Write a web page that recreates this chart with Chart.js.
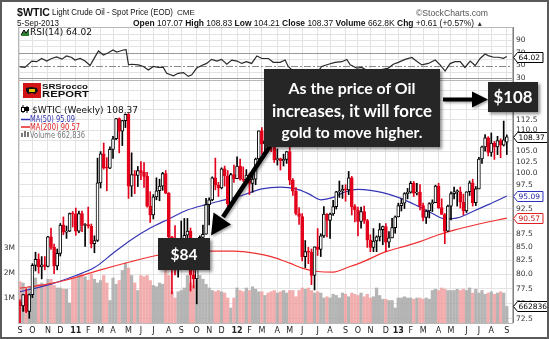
<!DOCTYPE html>
<html><head><meta charset="utf-8">
<script src="https://cdn.jsdelivr.net/npm/chart.js@4"></script>
<style>
html,body{margin:0;padding:0;background:#fff;}
#wrap{position:relative;width:549px;height:339px;overflow:hidden;background:#fff;}
canvas{position:absolute;left:0;top:0;}
.t{position:absolute;white-space:nowrap;line-height:1;transform-origin:0 50%;font-family:'DejaVu Sans',sans-serif;color:#111;z-index:4;}
.l{font-family:'Liberation Sans',Arial,sans-serif;}
.box{position:absolute;background:#262626;color:#fff;font-family:Lato,sans-serif;font-weight:bold;text-align:center;box-shadow:2px 2px 3px rgba(0,0,0,0.45);z-index:6;}
.box div{white-space:nowrap;}
#frame{position:absolute;left:0;top:0;width:549px;height:339px;box-sizing:border-box;border:2px solid #5a5a5a;pointer-events:none;z-index:9;}
</style></head><body>
<div id="wrap">
<canvas id="rsi" width="549" height="339"></canvas>
<canvas id="main" width="549" height="339"></canvas>

<!-- header -->
<div class="t l" style="left:17px;top:7.2px;font-size:11px;font-weight:bold;" data-w="33">$WTIC</div>
<div class="t l" style="left:52px;top:8.3px;font-size:9px;" data-w="121">Light Crude Oil - Spot Price (EOD)</div>
<div class="t l" style="left:177px;top:9px;font-size:8px;" data-w="18">CME</div>
<div class="t l" style="left:416px;top:8.5px;font-size:9px;color:#555;" data-w="72">©StockCharts.com</div>
<div class="t l" style="left:17px;top:18.5px;font-size:9px;" data-w="42">5-Sep-2013</div>
<div class="t l" style="left:133px;top:18.5px;font-size:9px;" data-w="350"><b>Open</b> 107.07 <b>High</b> 108.83 <b>Low</b> 104.21 <b>Close</b> 108.37 <b>Volume</b> 662.8K <b>Chg</b> +0.61 (+0.57%) <span style="font-size:7px;color:#333">▲</span></div>

<!-- RSI legend -->
<svg style="position:absolute;left:21px;top:29px;z-index:4" width="8" height="7"><polygon points="0,7 3,1 5,4 8,0 8,7" fill="#2e7d32"/><polyline points="0,6 3,1 5,4 8,0" fill="none" stroke="#000" stroke-width="1"/></svg>
<div class="t" style="left:30px;top:27.8px;font-size:9px;" data-w="62">RSI(14) 64.02</div>

<!-- logo -->
<svg style="position:absolute;left:23px;top:83px;z-index:4" width="18" height="15"><rect x="0" y="0" width="18" height="15" fill="#d21414"/><path d="M3,5 L8,4 L14,5 L15,8 L12,11 L9,10 L5,11 L3,8 Z" fill="#111"/><rect x="6" y="6" width="6" height="3" fill="#e8c000"/></svg>
<div class="t l" style="left:42px;top:82.8px;font-size:8px;font-weight:bold;" data-w="46">SRSrocco</div>
<div class="t l" style="left:42px;top:89px;font-size:9.5px;font-weight:bold;" data-w="47">REPORT</div>

<!-- main legend -->
<svg style="position:absolute;left:21px;top:105px;z-index:4" width="9" height="32">
  <line x1="2" y1="0" x2="2" y2="8" stroke="#000"/><rect x="0.5" y="2.5" width="3" height="4" fill="#fff" stroke="#000"/>
  <line x1="6" y1="1" x2="6" y2="8" stroke="#000"/><rect x="4.5" y="2.5" width="3" height="3" fill="#000" stroke="#000"/>
  <line x1="0" y1="14.5" x2="9" y2="14.5" stroke="#2e2eb0" stroke-width="1.5"/>
  <line x1="0" y1="22" x2="9" y2="22" stroke="#e82020" stroke-width="1.5"/>
  <rect x="0" y="28" width="2" height="4" fill="#777"/><rect x="3" y="26" width="2" height="6" fill="#777"/><rect x="6" y="27" width="2" height="5" fill="#777"/>
</svg>
<div class="t" style="left:31.7px;top:105.5px;font-size:9px;" data-w="106">$WTIC (Weekly) 108.37</div>
<div class="t" style="left:30px;top:115px;font-size:9px;color:#2e2eb0;" data-w="45">MA(50) 95.09</div>
<div class="t" style="left:30px;top:122.8px;font-size:9px;color:#e02020;" data-w="50">MA(200) 90.57</div>
<div class="t" style="left:29.5px;top:130.5px;font-size:9px;color:#777;" data-w="55">Volume 662,836</div>

<!-- arrows -->
<svg style="position:absolute;left:0;top:0;z-index:5" width="549" height="339">
  <defs><filter id="sh" x="-20%" y="-20%" width="140%" height="140%"><feDropShadow dx="1.5" dy="1.5" stdDeviation="1" flood-color="#000" flood-opacity="0.35"/></filter></defs>
  <g filter="url(#sh)">
    <line x1="443" y1="99.5" x2="475" y2="99.5" stroke="#000" stroke-width="4"/>
    <polygon points="472,91.5 488,99.5 472,107.5" fill="#000"/>
    <line x1="270" y1="146" x2="223" y2="217" stroke="#000" stroke-width="4.5"/>
    <polygon points="231,224.5 211,235.5 213.5,212.5" fill="#000"/>
  </g>
</svg>

<!-- annotation boxes -->
<div class="box" style="left:264px;top:69px;width:176px;height:78px;font-size:14.5px;line-height:21.5px;padding-top:8px;box-sizing:border-box;">
  <div><span data-fw="127">As the price of Oil</span></div>
  <div><span data-fw="160">increases, it will force</span></div>
  <div><span data-fw="141">gold to move higher.</span></div>
</div>
<div class="box" style="left:488px;top:82px;width:50px;height:30px;font-size:17px;line-height:30px;"><span data-fw="39">$108</span></div>
<div class="box" style="left:158px;top:238px;width:52px;height:32px;font-size:17px;line-height:32px;"><span data-fw="27">$84</span></div>

<div id="frame"></div>
</div>

<script>
// ---------- DATA ----------
const monthPos = [0,4,9,13,18,22,26,30,35,39,43,48,52,57,61,65,70,74,78,83,87,91,96,100,105,109,113,118,122,126,130,135,139,144,148,152,157];
const monthLabels = ['S','O','N','D','11','F','M','A','M','J','J','A','S','O','N','D','12','F','M','A','M','J','J','A','S','O','N','D','13','F','M','A','M','J','J','A','S'];
const priceTicks = [72.5,75,77.5,80,82.5,85,87.5,90,92.5,95,97.5,100,102.5,105,107.5,110,112.5,115,117.5,120];
const volTicks = [1,2,3];
const rsiLabelTicks = [30,50,70,90];
const rsiGrid = [30,40,50,60,70,80,90,100];

const opens = [
75.2,74.6,76.5,73.7,76.5,81.6,82.7,81.3,81.7,81.4,
86.9,84.9,81.5,83.8,89.2,87.8,88.0,91.5,91.4,88.0,
91.5,89.1,89.3,89.0,85.6,86.2,97.9,104.4,101.2,101.1,
105.4,107.9,112.8,109.7,112.3,113.9,97.2,99.7,99.5,100.6,
100.2,99.3,93.0,91.2,94.9,96.2,97.2,99.9,95.7,86.9,
85.4,82.3,85.4,86.5,87.2,88.0,79.9,79.2,83.0,86.8,
87.4,93.3,94.3,99.0,97.4,96.8,101.0,99.4,93.5,99.7,
98.8,101.6,98.7,98.5,99.6,97.8,98.7,103.2,109.8,106.7,
107.4,107.1,106.9,103.0,103.3,102.8,103.1,104.9,98.5,96.1,
91.5,90.9,83.2,84.1,84.0,79.8,85.0,84.5,87.1,91.4,
90.1,91.4,92.9,96.0,96.2,96.5,96.4,99.0,92.9,92.2,
89.9,91.9,90.1,86.3,84.9,86.1,86.9,88.3,88.9,85.9,
86.7,88.7,90.8,93.1,93.6,95.6,95.9,97.8,95.7,95.9,
93.1,90.7,92.0,93.5,93.7,97.2,92.7,91.3,88.0,93.0,
95.6,96.0,96.0,93.8,92.0,96.0,97.9,93.7,96.6,103.2,
106.0,108.1,104.7,106.9,106.0,107.5,106.4,107.07];
const highs = [
75.6,76.5,77.5,76.6,81.9,84.0,83.7,83.2,83.2,87.0,
88.6,85.5,84.6,89.5,90.8,89.0,91.6,91.9,92.6,92.0,
92.0,89.5,92.8,89.4,87.1,103.4,104.9,106.9,103.5,106.0,
108.5,112.8,113.0,112.4,114.0,114.1,104.6,100.6,101.5,102.6,
102.4,100.2,96.0,95.4,99.0,98.7,100.2,100.6,95.8,87.0,
89.1,86.0,90.0,90.5,90.5,88.6,83.6,83.0,87.1,89.2,
94.6,94.7,99.2,103.4,98.0,101.2,101.6,100.6,100.0,101.8,
103.7,103.2,101.4,100.8,100.0,100.2,103.4,109.8,110.6,107.4,
107.5,108.3,107.5,105.5,103.4,104.3,104.9,106.4,98.8,96.9,
92.7,91.5,86.2,84.9,84.6,85.0,88.5,87.5,92.9,91.5,
91.6,94.2,96.1,98.3,97.4,97.5,100.4,99.3,93.3,92.8,
92.8,93.0,90.3,87.3,88.5,87.1,89.5,89.0,89.5,87.9,
90.5,91.0,93.6,94.5,95.8,96.7,98.2,98.2,97.8,97.5,
93.6,92.2,93.7,94.3,97.4,97.8,94.5,91.5,93.2,96.0,
97.0,96.4,97.0,95.5,96.0,98.3,98.7,97.1,103.6,106.2,
108.9,108.4,109.3,107.3,108.5,107.9,112.2,108.83];
const lows = [
71.9,73.7,73.5,72.6,76.0,80.6,80.2,79.2,80.8,81.3,
84.5,80.1,80.8,83.3,87.3,86.6,87.9,88.8,87.2,87.7,
87.9,85.1,88.6,84.8,83.9,86.0,96.8,100.9,96.2,101.0,
103.3,107.7,104.6,106.3,110.6,94.6,95.0,95.6,97.1,98.6,
96.9,92.8,89.7,90.4,94.3,94.1,96.3,95.6,82.9,76.6,
79.9,79.5,85.3,84.8,85.1,77.1,77.6,74.95,82.6,84.7,
87.4,89.2,94.1,96.4,95.0,96.6,97.2,92.5,93.5,98.0,
98.8,98.5,98.2,97.9,95.4,95.9,97.5,102.9,104.3,103.8,
104.8,104.9,102.4,101.8,100.7,101.6,102.2,97.5,95.2,91.2,
89.3,82.4,81.2,81.9,78.2,77.3,83.4,83.2,86.8,86.9,
86.6,91.1,92.4,94.8,94.6,94.0,95.4,91.2,89.8,87.1,
88.6,89.5,84.9,84.1,84.1,84.1,86.1,85.4,84.1,84.9,
86.7,87.6,90.8,92.0,92.5,94.5,95.7,95.0,95.3,92.2,
90.0,89.5,90.6,91.9,93.7,92.5,91.3,85.6,87.9,90.2,
94.5,93.0,92.6,91.2,91.7,95.2,93.0,93.1,96.6,102.2,
105.0,103.9,103.8,103.1,104.2,103.5,106.2,104.21];
const closes = [
74.6,76.5,73.7,76.5,81.6,82.7,81.3,81.7,81.4,86.9,
84.9,81.5,83.8,89.2,87.8,88.0,91.5,91.4,88.0,91.5,
89.1,89.3,89.0,85.6,86.2,97.9,104.4,101.2,101.1,105.4,
107.9,112.8,109.7,112.3,113.9,97.2,99.7,99.5,100.6,100.2,
99.3,93.0,91.2,94.9,96.2,97.2,99.9,95.7,86.9,85.4,
82.3,85.4,86.5,87.2,88.0,79.9,79.2,83.0,86.8,87.4,
93.3,94.3,99.0,97.4,96.8,101.0,99.4,93.5,99.7,98.8,
101.6,98.7,98.5,99.6,97.8,98.7,103.2,109.8,106.7,107.4,
107.1,106.9,103.0,103.3,102.8,103.1,104.9,98.5,96.1,91.5,
90.9,83.2,84.1,84.0,79.8,85.0,84.5,87.1,91.4,90.1,
91.4,92.9,96.0,96.2,96.5,96.4,99.0,92.9,92.2,89.9,
91.9,90.1,86.3,84.9,86.1,86.9,88.3,88.9,85.9,86.7,
88.7,90.8,93.1,93.6,95.6,95.9,97.8,95.7,95.9,93.1,
90.7,92.0,93.5,93.7,97.2,92.7,91.3,88.0,93.0,95.6,
96.0,96.0,93.8,92.0,96.0,97.9,93.7,96.6,103.2,106.0,
108.1,104.7,106.9,106.0,107.5,106.4,107.65,108.37];
// weekly volume, millions
const volumes = [
1.65,1.6,1.35,1.45,1.4,1.8,1.55,1.6,1.5,1.75,
1.75,1.5,1.4,1.4,1.35,1.35,0.8,1.8,1.8,1.9,
1.95,1.85,1.7,1.95,1.75,1.6,1.7,1.9,1.6,0.9,
1.8,1.55,1.7,2.1,2.4,2.2,1.9,1.6,1.3,1.9,
1.85,1.9,1.7,1.5,1.45,1.6,1.55,2.2,1.9,1.25,
1.0,1.25,1.3,1.4,1.9,1.6,1.5,1.7,1.9,1.75,
1.55,1.4,1.3,1.25,1.3,1.25,1.2,1.0,0.6,1.0,
1.4,1.3,1.25,1.4,1.3,1.45,1.35,1.25,1.25,1.1,
1.2,1.25,1.3,1.2,1.25,1.3,1.2,1.3,1.3,1.05,
1.3,1.4,1.35,1.4,1.3,1.2,1.25,1.2,1.0,1.05,
1.0,1.15,1.1,1.0,1.2,1.15,1.05,1.2,1.15,1.1,
1.2,1.05,1.15,1.0,1.05,1.4,1.1,0.95,0.95,0.9,
0.9,0.6,1.0,1.0,1.05,1.0,1.0,0.95,1.0,1.0,
0.95,1.0,0.95,1.3,1.35,1.3,1.4,1.35,1.3,1.3,
1.3,1.35,1.3,1.35,1.3,1.4,1.2,1.35,1.2,1.3,
1.15,1.2,1.25,1.15,1.2,1.25,1.2,0.662836];
// moving averages read at sample weeks [week, value]
const ma50 = [[0,77.0],[10,78.3],[18,79.8],[24,81.2],[30,83.8],[36,86.4],[42,88.6],[48,90.4],[54,92.2],[60,93.3],[66,94.3],[72,95.3],[78,96.6],[84,97.0],[89,96.6],[93,95.6],[97,94.3],[101,94.8],[105,96.0],[109,96.5],[113,96.3],[117,95.8],[122,94.8],[128,93.1],[133,91.5],[137,90.4],[141,90.6],[146,91.9],[151,93.3],[157,95.09]];
const ma200 = [[0,77.6],[8,78.2],[15,79.0],[26,80.8],[36,82.3],[44,83.4],[52,84.0],[60,84.2],[69,84.2],[76,83.8],[81,83.2],[87,82.0],[91,81.1],[96,80.5],[101,80.4],[106,81.3],[110,82.1],[118,84.1],[124,85.1],[129,86.0],[135,87.3],[140,88.2],[148,89.4],[157,90.57]];
const rsi = [[0,48],[1.6,47],[3.8,57],[5.4,56],[7,61],[8.6,57],[10.2,61],[11.8,63.5],[13.5,60],[15,65],[16.7,62.7],[17.7,58.6],[19.4,61],[21,57],[22.6,50],[24.2,63.5],[25.3,72.8],[26.9,66.5],[28.5,70],[30,74.3],[31.2,71],[32.3,72.8],[33.3,74.3],[34.2,75],[35,51],[36,52],[38.2,51],[39.8,48.5],[41.4,43],[43,48.5],[44.6,47],[46.2,47],[47.3,37.8],[49.5,34],[51,37.8],[52.7,39],[54.3,33],[55.4,35.5],[57,46],[58.6,50],[60.2,53.3],[61.8,59.6],[63.5,57],[65,59.6],[66.7,52],[68.3,58.6],[70,57],[71.5,53.3],[73,56],[74.7,53.3],[76.4,65],[78,61],[80.1,61],[81.7,55],[83.9,55],[85.5,58.6],[86.5,48.5],[88,42],[90,36],[91,30],[93,31],[94,28],[95,38],[96,40],[97.3,48.5],[99.5,52],[101.6,55],[103.8,56],[105.4,59.6],[106.5,51],[108.6,46],[110.2,47],[112,42],[114,40],[116,43],[118.8,46],[120.4,52],[122,55],[124.2,59.6],[126.4,62.7],[127.4,58.6],[129.6,51],[131.7,53.3],[133.9,58.6],[135.5,51],[137.1,41.4],[138.7,53],[140.3,56],[142,56],[143.5,47],[145.2,57],[146.8,50],[148.4,61],[150,68],[151,65.6],[152.7,63],[154.3,63],[155.9,61.4],[157,64.02]];

// ---------- FIT TEXT ----------
document.querySelectorAll('[data-w]').forEach(el => {
  const w = el.getBoundingClientRect().width;
  if (w > 0) el.style.transform = 'scaleX(' + (+el.dataset.w / w) + ')';
});
document.querySelectorAll('[data-fw]').forEach(el => {
  const w = el.getBoundingClientRect().width;
  const fs = parseFloat(getComputedStyle(el).fontSize);
  if (w > 0) el.style.fontSize = (fs * +el.dataset.fw / w) + 'px';
});

// ---------- CHART ----------
Chart.defaults.font.family = "'DejaVu Sans', sans-serif";
const UP = '#000000', DOWN = '#e3001b';
const isDown = i => (i > 0 ? closes[i] < closes[i-1] : closes[i] < opens[i]);
const cColor = i => isDown(i) ? DOWN : UP;
const XMIN = -0.645, XMAX = 159.0;

function drawTag(ctx, x, y, text, stroke, fill) {
  ctx.font = "7.5px 'DejaVu Sans'";
  const w = ctx.measureText(text).width + 4, h = 10;
  x = Math.round(x) + 0.5; y = Math.round(y) + 0.5;
  ctx.beginPath();
  ctx.moveTo(x, y); ctx.lineTo(x + 4, y - h/2); ctx.lineTo(x + 4 + w, y - h/2);
  ctx.lineTo(x + 4 + w, y + h/2); ctx.lineTo(x + 4, y + h/2); ctx.closePath();
  ctx.fillStyle = '#fff'; ctx.fill();
  ctx.strokeStyle = stroke; ctx.lineWidth = 1; ctx.stroke();
  ctx.fillStyle = fill; ctx.textBaseline = 'middle'; ctx.textAlign = 'left';
  ctx.fillText(text, x + 5, y + 0.5);
}

const xScale = (showLabels) => ({
  type: 'linear', min: XMIN, max: XMAX, offset: false,
  afterBuildTicks: s => { s.ticks = monthPos.map(v => ({ value: v })); },
  afterFit: s => { s.height = showLabels ? 16 : 0; },
  grid: { color: '#e3e3e3', drawTicks: false, offset: false },
  border: { display: false },
  ticks: showLabels ? {
    autoSkip: false, maxRotation: 0, padding: 3, color: '#222',
    callback: (v, i) => monthLabels[i],
    font: c => ({ size: 8, weight: /\d/.test(monthLabels[c.index] || '') ? 'bold' : 'normal' })
  } : { display: false }
});

const mainDeco = {
  id: 'mainDeco',
  afterDraw(chart) {
    const { ctx, chartArea: a, scales } = chart;
    ctx.save();
    ctx.strokeStyle = '#b8b8b8'; ctx.lineWidth = 1;
    ctx.strokeRect(a.left + 0.5, a.top + 0.5, a.right - a.left - 1, a.bottom - a.top);
    ctx.strokeStyle = '#808080';
    ctx.beginPath(); ctx.moveTo(a.right + 0.5, a.top); ctx.lineTo(a.right + 0.5, a.bottom); ctx.stroke();
    const last = closes.length - 1;
    drawTag(ctx, a.right, scales.yP.getPixelForValue(ma50[ma50.length-1][1]), ma50[ma50.length-1][1].toFixed(2), '#3030c0', '#2020a0');
    drawTag(ctx, a.right, scales.yP.getPixelForValue(ma200[ma200.length-1][1]), ma200[ma200.length-1][1].toFixed(2), '#e02020', '#c01010');
    drawTag(ctx, a.right, scales.yV.getPixelForValue(volumes[last]), String(Math.round(volumes[last] * 1e6)), '#000', '#000');
    drawTag(ctx, a.right, scales.yP.getPixelForValue(closes[last]), closes[last].toFixed(2), '#000', '#000');
    ctx.restore();
  }
};

new Chart(document.getElementById('main'), {
  type: 'bar',
  data: { datasets: [
    { type: 'bar', yAxisID: 'yV', grouped: false, order: 10, barThickness: 2.6,
      data: volumes.map((v, i) => ({ x: i, y: v })),
      backgroundColor: c => isDown(c.dataIndex) ? 'rgba(240,160,160,0.85)' : 'rgba(168,168,168,0.85)' },
    { type: 'line', yAxisID: 'yP', order: 5, data: ma200.map(([x, y]) => ({ x, y })),
      borderColor: '#f03030', borderWidth: 1.2, pointRadius: 0, cubicInterpolationMode: 'monotone' },
    { type: 'line', yAxisID: 'yP', order: 5, data: ma50.map(([x, y]) => ({ x, y })),
      borderColor: '#3535b5', borderWidth: 1.2, pointRadius: 0, cubicInterpolationMode: 'monotone' },
    { type: 'bar', yAxisID: 'yP', grouped: false, order: 2, barThickness: 1,
      data: lows.map((l, i) => ({ x: i, y: [l, highs[i]] })),
      backgroundColor: c => cColor(c.dataIndex) },
    { type: 'bar', yAxisID: 'yP', grouped: false, order: 1, barThickness: 3, borderWidth: 1, borderSkipped: false, minBarLength: 1,
      data: opens.map((o, i) => ({ x: i, y: [o, closes[i]] })),
      backgroundColor: c => closes[c.dataIndex] < opens[c.dataIndex] ? cColor(c.dataIndex) : '#ffffff',
      borderColor: c => cColor(c.dataIndex) }
  ]},
  options: {
    animation: false, responsive: false, events: [],
    layout: { padding: { top: 80, left: 0, right: 0, bottom: 0 } },
    plugins: { legend: { display: false }, tooltip: { enabled: false } },
    scales: {
      x: xScale(true),
      yP: { type: 'logarithmic', position: 'right', min: 71.85, max: 122.85,
        afterBuildTicks: s => { s.ticks = priceTicks.map(v => ({ value: v })); },
        afterFit: s => { s.width = 36; },
        grid: { color: '#e3e3e3', drawTicks: false }, border: { display: false },
        ticks: { padding: 3, color: '#333', font: { size: 7.5 }, callback: v => Number(v).toFixed(1) } },
      yV: { type: 'linear', position: 'left', min: 0, max: 9.72,
        afterBuildTicks: s => { s.ticks = volTicks.map(v => ({ value: v })); },
        afterFit: s => { s.width = 18; },
        grid: { display: false, drawTicks: false, tickLength: 0 }, border: { display: false },
        ticks: { padding: 3, color: '#333', font: { size: 7.5 }, callback: v => v + 'M' } }
    }
  },
  plugins: [mainDeco]
});

const rsiDeco = {
  id: 'rsiDeco',
  beforeDatasetsDraw(chart) {
    const { ctx, chartArea: a, scales: { y } } = chart;
    ctx.save(); ctx.lineWidth = 1;
    rsiGrid.forEach(v => {
      const py = Math.round(y.getPixelForValue(v)) + 0.5;
      if (py < a.top || py > a.bottom) return;
      if (v === 50) { ctx.setLineDash([7, 2, 2, 2]); ctx.strokeStyle = '#8a8a8a'; }
      else if (v === 70 || v === 30) { ctx.setLineDash([]); ctx.strokeStyle = '#9a9a9a'; }
      else { ctx.setLineDash([]); ctx.strokeStyle = '#e3e3e3'; }
      ctx.beginPath(); ctx.moveTo(a.left, py); ctx.lineTo(a.right, py); ctx.stroke();
    });
    ctx.restore();
  },
  afterDraw(chart) {
    const { ctx, chartArea: a, scales: { y } } = chart;
    ctx.save();
    ctx.strokeStyle = '#b8b8b8'; ctx.lineWidth = 1;
    ctx.strokeRect(a.left + 0.5, a.top + 0.5, a.right - a.left - 1, a.bottom - a.top);
    ctx.strokeStyle = '#808080';
    ctx.beginPath(); ctx.moveTo(a.right + 0.5, a.top); ctx.lineTo(a.right + 0.5, a.bottom); ctx.stroke();
    const lastR = rsi[rsi.length - 1][1];
    drawTag(ctx, a.right, y.getPixelForValue(lastR), lastR.toFixed(2), '#000', '#000');
    ctx.restore();
  }
};

new Chart(document.getElementById('rsi'), {
  type: 'line',
  data: { datasets: [{ data: rsi.map(([x, y]) => ({ x, y })), borderColor: '#2a2a2a', borderWidth: 1.2, pointRadius: 0, tension: 0 }] },
  options: {
    animation: false, responsive: false, events: [],
    layout: { padding: { top: 27, bottom: 259, left: 18, right: 0 } },
    plugins: { legend: { display: false }, tooltip: { enabled: false } },
    scales: {
      x: xScale(false),
      y: { position: 'right', min: 27.3, max: 110.4,
        afterBuildTicks: s => { s.ticks = rsiLabelTicks.map(v => ({ value: v })); },
        afterFit: s => { s.width = 36; },
        grid: { display: false, drawTicks: false }, border: { display: false },
        ticks: { padding: 3, color: '#333', font: { size: 7.5 }, callback: v => String(v) } }
    }
  },
  plugins: [rsiDeco]
});
</script>
</body></html>
